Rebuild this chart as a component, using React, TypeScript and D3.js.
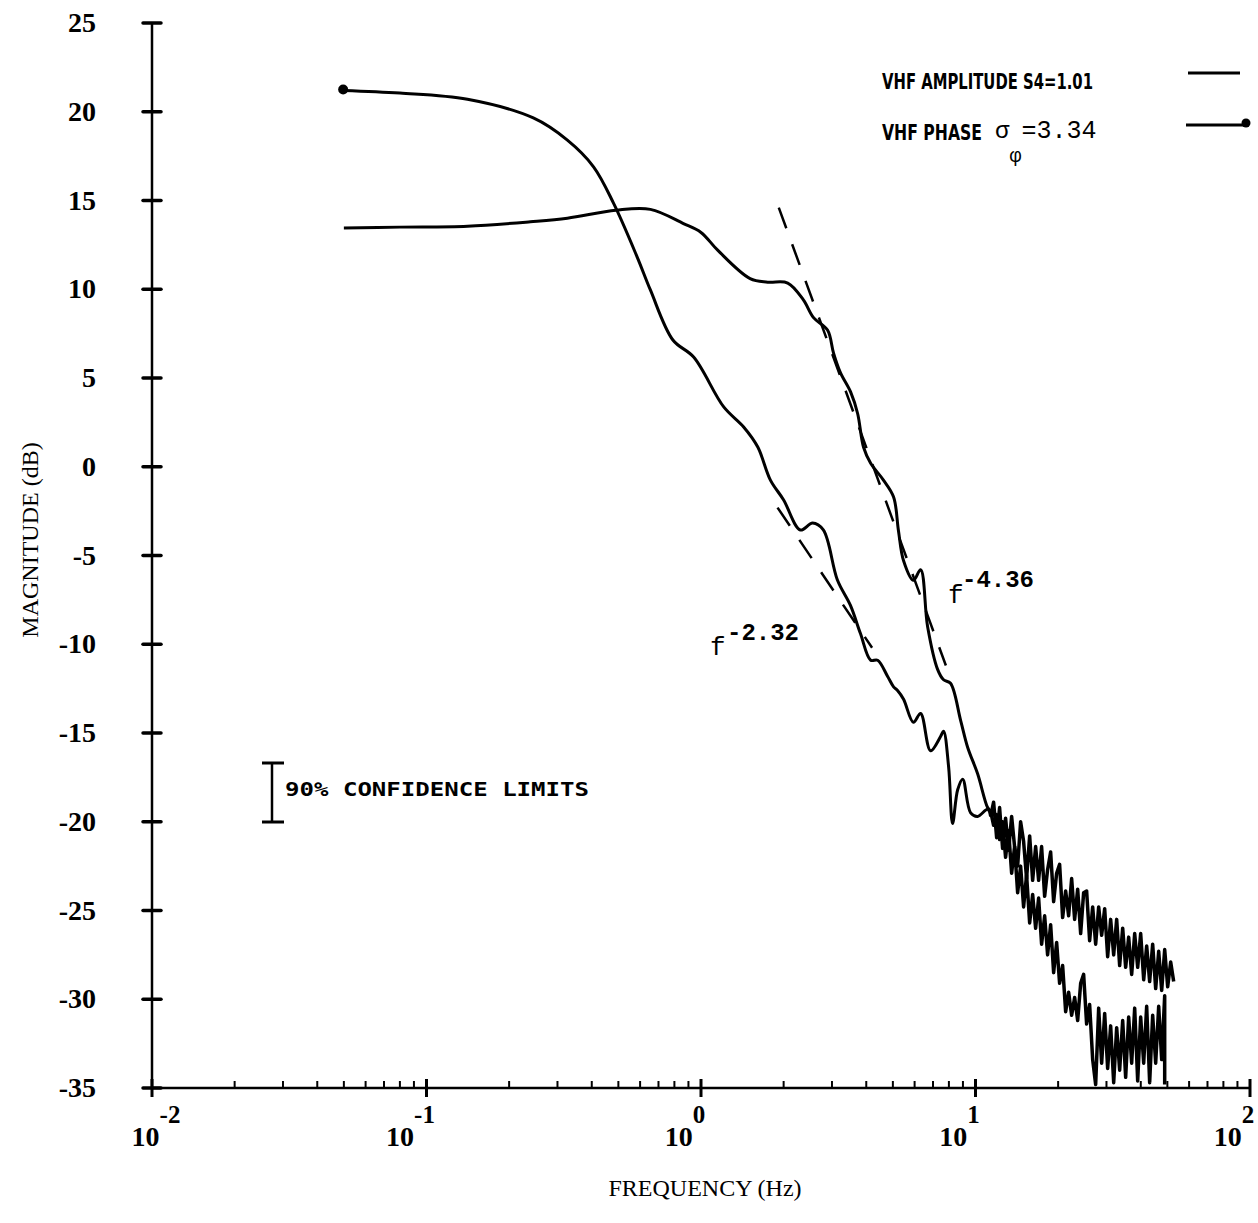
import React from 'react';
import * as d3 from 'd3';

// ---- axis ticks ----
const yTickValues = [25, 20, 15, 10, 5, 0, -5, -10, -15, -20, -25, -30, -35];
const xDecadeExponents = [-2, -1, 0, 1, 2];

// ---- VHF phase (starts at ~21 dB, marked with a blob) ----
const phaseFreq = [0.0497, 0.08, 0.141, 0.245, 0.326, 0.406, 0.48, 0.586, 0.654, 0.79, 0.94, 1.21, 1.43, 1.61, 1.79, 2.0, 2.3, 2.55, 2.79, 3.14, 3.5, 3.81, 4.15, 4.4, 4.78, 5.03, 5.2, 5.47, 5.94, 6.31, 6.86, 7.46, 7.65, 7.98, 8.25, 8.61, 8.98, 9.6, 10.18, 11.07];
const phaseDb = [21.2, 21.05, 20.7, 19.65, 18.4, 16.9, 14.85, 11.8, 9.96, 7.14, 6.18, 3.37, 2.24, 1.11, -0.75, -1.87, -3.56, -3.17, -3.56, -6.38, -7.8, -9.4, -10.9, -10.9, -11.8, -12.4, -12.6, -13.1, -14.4, -13.9, -16.0, -15.2, -14.9, -16.9, -20.1, -18.2, -17.6, -19.5, -19.7, -19.3];

// ---- VHF amplitude (starts at ~13.5 dB) ----
const ampFreq = [0.05, 0.08, 0.141, 0.239, 0.326, 0.49, 0.654, 0.863, 1.0, 1.15, 1.51, 1.75, 2.07, 2.36, 2.57, 2.89, 3.04, 3.22, 3.51, 3.72, 3.91, 4.15, 4.62, 5.03, 5.24, 5.47, 5.94, 6.31, 6.69, 7.27, 7.65, 8.11, 8.83, 9.36, 10.18, 11.07];
const ampDb = [13.45, 13.5, 13.55, 13.8, 14.0, 14.45, 14.5, 13.7, 13.2, 12.2, 10.6, 10.4, 10.35, 9.4, 8.4, 7.7, 6.4, 5.3, 4.2, 3.0, 1.1, 0.2, -0.75, -1.7, -3.6, -5.3, -6.4, -5.8, -9.0, -11.4, -12.0, -12.2, -14.3, -15.8, -17.3, -19.2];

// ---- high-frequency (noisy) part, shared frequency grid ----
const hfFreq = [11.35, 11.64, 11.94, 12.24, 12.55, 12.87, 13.2, 13.54, 13.88, 14.24, 14.6, 14.97, 15.35, 15.75, 16.15, 16.56, 16.98, 17.41, 17.86, 18.31, 18.78, 19.26, 19.75, 20.25, 20.77, 21.3, 21.84, 22.4, 22.97, 23.56, 24.16, 24.77, 25.4, 26.05, 26.72, 27.4, 28.1, 28.81, 29.55, 30.3, 31.07, 31.87, 32.68, 33.51, 34.37, 35.24, 36.14, 37.06, 38.01, 38.98, 39.97, 40.99, 42.03, 43.1, 44.2, 45.33, 46.49, 47.67, 48.89, 50.13, 51.41, 52.72];
const phaseHfDb = [-19.7, -18.9, -20.9, -19.2, -21.5, -19.8, -21.6, -19.7, -21.4, -22.5, -20.0, -21.1, -23.2, -20.8, -23.3, -21.4, -23.3, -21.4, -24.2, -22.7, -21.7, -24.5, -22.9, -22.4, -25.4, -23.9, -25.3, -23.2, -25.5, -23.8, -26.3, -24.0, -23.9, -26.7, -24.8, -26.9, -24.8, -26.4, -24.9, -27.6, -25.5, -27.5, -25.5, -28.1, -26.0, -28.2, -26.5, -28.6, -26.3, -28.2, -26.3, -28.9, -27.0, -29.0, -26.9, -29.4, -27.3, -29.5, -27.2, -29.3, -27.9, -29.0];
const ampHfDb = [-19.4, -20.2, -19.6, -21.0, -20.0, -22.0, -20.5, -22.9, -21.4, -24.0, -22.5, -24.8, -23.0, -25.7, -24.1, -26.0, -24.3, -26.9, -25.3, -27.5, -25.8, -28.5, -26.8, -29.1, -28.1, -30.7, -29.6, -30.9, -29.9, -31.2, -29.1, -28.6, -31.4, -30.3, -33.4, -34.8, -30.5, -33.6, -30.8, -33.9, -31.5, -34.7, -31.6, -34.0, -31.2, -34.4, -31.0, -33.6, -30.5, -34.6, -31.0, -33.6, -30.4, -34.7, -30.9, -33.6, -30.4, -33.4, -29.8];
const ampEndFreq = [48.89];
const ampEndDb = [-34.8];

// ---- fitted power laws (dashed) ----
const phaseFitFreq = [1.9, 4.2];
const phaseFitDb = [-2.3, -10.2];
const ampFitFreq = [1.92, 7.8];
const ampFitDb = [14.6, -11.2];

const W = 1258;
const H = 1223;

export default function App() {
  const x = d3.scaleLog().domain([0.01, 100]).range([152, 1250]);
  const y = d3.scaleLinear().domain([-35, 25]).range([1088, 23]);

  const zip = (fs: number[], ds: number[]) => fs.map((f, i) => [f, ds[i]] as [number, number]);

  const phaseLow = zip(phaseFreq, phaseDb);
  const phaseHigh = zip(hfFreq, phaseHfDb);
  const ampLow = zip(ampFreq, ampDb);
  const ampHigh = [...zip(hfFreq.slice(0, ampHfDb.length), ampHfDb), ...zip(ampEndFreq, ampEndDb)];

  const smooth = d3
    .line<[number, number]>()
    .x((d) => x(d[0]))
    .y((d) => y(d[1]))
    .curve(d3.curveCatmullRom.alpha(0.5));
  const straight = d3
    .line<[number, number]>()
    .x((d) => x(d[0]))
    .y((d) => y(d[1]));

  const minorTicks: number[] = [];
  for (let e = -2; e < 2; e++) {
    for (let m = 2; m <= 9; m++) minorTicks.push(m * Math.pow(10, e));
  }

  const serif = "'Liberation Serif', 'Times New Roman', serif";
  const mono = "'Liberation Mono', 'DejaVu Sans Mono', monospace";

  return (
    <svg
      width={W}
      height={H}
      style={{ position: 'absolute', left: 0, top: 0, background: '#fff' }}
    >
      <rect x={0} y={0} width={W} height={H} fill="#fff" />
      {/* axes */}
      <line x1={x(0.01)} x2={x(0.01)} y1={y(25)} y2={y(-35)} stroke="#000" strokeWidth={2.5} />
      <line x1={x(0.01)} x2={x(100)} y1={y(-35)} y2={y(-35)} stroke="#000" strokeWidth={2.5} />
      {yTickValues.map((v) => (
        <g key={'yt' + v}>
          <line x1={x(0.01) - 9} x2={x(0.01) + 9} y1={y(v)} y2={y(v)} stroke="#000" strokeWidth={3.5} strokeLinecap="round" />
          <text
            x={96}
            y={y(v) + 9}
            textAnchor="end"
            fontFamily={serif}
            fontWeight="bold"
            fontSize={28}
          >
            {v < 0 ? '-' + Math.abs(v) : String(v)}
          </text>
        </g>
      ))}
      {minorTicks.map((t, i) => (
        <line key={'mt' + i} x1={x(t)} x2={x(t)} y1={y(-35)} y2={y(-35) - 7} stroke="#000" strokeWidth={2} />
      ))}
      {xDecadeExponents.map((e) => {
        const tx = x(Math.pow(10, e));
        return (
          <g key={'xt' + e}>
            <line x1={tx} x2={tx} y1={y(-35) - 9} y2={y(-35) + 9} stroke="#000" strokeWidth={3} />
            <text
              x={e === -2 ? tx + 4 : tx - 16}
              y={1146}
              textAnchor="middle"
              fontFamily={serif}
              fontWeight="bold"
              fontSize={28}
            >
              <tspan>10</tspan>
              <tspan dy={-23} fontSize={25}>{e < 0 ? '-' + Math.abs(e) : String(e)}</tspan>
            </text>
          </g>
        );
      })}

      {/* axis titles */}
      <text x={705} y={1196} textAnchor="middle" fontFamily={serif} fontSize={24}>
        FREQUENCY (Hz)
      </text>
      <text
        transform="translate(38,540) rotate(-90)"
        textAnchor="middle"
        fontFamily={serif}
        fontSize={24}
      >
        MAGNITUDE (dB)
      </text>

      {/* fitted lines */}
      <path d={straight(zip(phaseFitFreq, phaseFitDb)) || ''} fill="none" stroke="#000" strokeWidth={2.5} strokeDasharray="22,17" />
      <path d={straight(zip(ampFitFreq, ampFitDb)) || ''} fill="none" stroke="#000" strokeWidth={2.5} strokeDasharray="22,17" />

      {/* data curves */}
      <path d={smooth([...ampLow, ampHigh[0]]) || ''} fill="none" stroke="#000" strokeWidth={3} strokeLinejoin="round" />
      <path d={straight(ampHigh) || ''} fill="none" stroke="#000" strokeWidth={3.5} strokeLinejoin="round" />
      <path d={smooth([...phaseLow, phaseHigh[0]]) || ''} fill="none" stroke="#000" strokeWidth={3} strokeLinejoin="round" />
      <path d={straight(phaseHigh) || ''} fill="none" stroke="#000" strokeWidth={3.5} strokeLinejoin="round" />
      <circle cx={x(phaseFreq[0])} cy={y(phaseDb[0]) - 1} r={5} fill="#000" />

      {/* power-law labels */}
      <text x={710} y={655} fontFamily={mono} fontSize={26}>f</text>
      <text x={727} y={640} fontFamily={mono} fontSize={24} fontWeight="bold">-2.32</text>
      <text x={948} y={603} fontFamily={mono} fontSize={26}>f</text>
      <text x={962} y={587} fontFamily={mono} fontSize={24} fontWeight="bold">-4.36</text>

      {/* confidence limits */}
      <line x1={272} x2={272} y1={763} y2={822} stroke="#000" strokeWidth={2.5} />
      <line x1={262} x2={284} y1={763} y2={763} stroke="#000" strokeWidth={3} />
      <line x1={262} x2={284} y1={822} y2={822} stroke="#000" strokeWidth={3} />
      <text
        x={285}
        y={796}
        fontFamily="'DejaVu Sans Mono', monospace"
        fontWeight="bold"
        fontSize={20}
        textLength={304}
        lengthAdjust="spacingAndGlyphs"
      >
        90% CONFIDENCE LIMITS
      </text>

      {/* legend */}
      <text
        x={882}
        y={89}
        fontFamily="'DejaVu Sans Condensed', 'DejaVu Sans', sans-serif"
        fontWeight="bold"
        fontSize={22}
        textLength={211}
        lengthAdjust="spacingAndGlyphs"
      >
        VHF AMPLITUDE S4=1.01
      </text>
      <line x1={1188} x2={1240} y1={73} y2={73} stroke="#000" strokeWidth={3} />
      <text
        x={882}
        y={140}
        fontFamily="'DejaVu Sans Condensed', 'DejaVu Sans', sans-serif"
        fontWeight="bold"
        fontSize={22}
        textLength={100}
        lengthAdjust="spacingAndGlyphs"
      >
        VHF PHASE
      </text>
      <text x={995} y={138} fontFamily={mono} fontSize={24}>
        <tspan>σ</tspan>
        <tspan dy={24} fontSize={20}>φ</tspan>
        <tspan dy={-24} fontSize={25}>=3.34</tspan>
      </text>
      <line x1={1186} x2={1244} y1={125} y2={125} stroke="#000" strokeWidth={3} />
      <circle cx={1246} cy={123} r={4.5} fill="#000" />
    </svg>
  );
}
